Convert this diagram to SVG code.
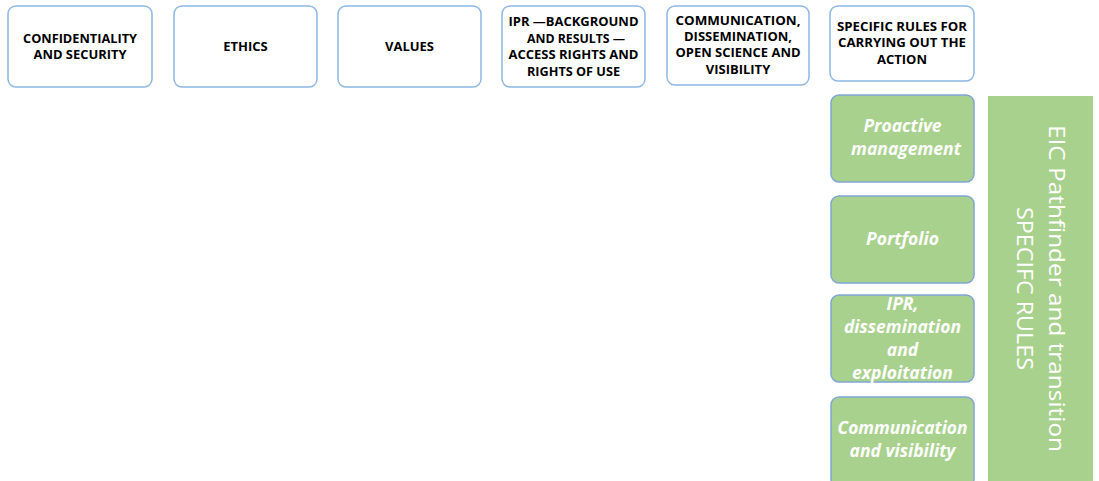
<svg xmlns="http://www.w3.org/2000/svg" width="1099" height="481" viewBox="0 0 1099 481">
<style>
.top{fill:#fff;stroke:#8fb8e3;stroke-width:1.5}
.g{fill:#a9d18e;stroke:#7fa7d3;stroke-width:1.5}
.tt{font-family:"Open Sans","Liberation Sans",sans-serif;font-weight:bold;font-size:13px;fill:#000;text-anchor:middle}
.gt{font-family:"Open Sans","Liberation Sans",sans-serif;font-weight:bold;font-style:italic;font-size:17.5px;fill:#fff;text-anchor:middle}
.bt{font-family:"Open Sans","Liberation Sans",sans-serif;font-weight:normal;font-size:22px;fill:#fff;text-anchor:middle}
</style>
<rect width="1099" height="481" fill="#fff"/>
<g id="n1"><rect class="top" x="8" y="6" width="144" height="81" rx="8"/>
<text class="tt" x="80" y="43" textLength="114" lengthAdjust="spacingAndGlyphs">CONFIDENTIALITY</text>
<text class="tt" x="80" y="59" textLength="93" lengthAdjust="spacingAndGlyphs">AND SECURITY</text></g>
<g id="n2"><rect class="top" x="174" y="6" width="143" height="81" rx="8"/>
<text class="tt" x="245.5" y="51">ETHICS</text></g>
<g id="n3"><rect class="top" x="338" y="6" width="143" height="81" rx="8"/>
<text class="tt" x="409.5" y="51">VALUES</text></g>
<g id="n4"><rect class="top" x="502" y="6" width="143" height="81" rx="8"/>
<text class="tt" x="573.5" y="26" textLength="130" lengthAdjust="spacingAndGlyphs">IPR —BACKGROUND</text>
<text class="tt" x="576" y="43" textLength="98" lengthAdjust="spacingAndGlyphs">AND RESULTS —</text>
<text class="tt" x="573.5" y="59" textLength="130" lengthAdjust="spacingAndGlyphs">ACCESS RIGHTS AND</text>
<text class="tt" x="573.5" y="76" textLength="93" lengthAdjust="spacingAndGlyphs">RIGHTS OF USE</text></g>
<g id="n5"><rect class="top" x="667" y="6" width="142" height="79" rx="8"/>
<text class="tt" x="738" y="25" textLength="125" lengthAdjust="spacingAndGlyphs">COMMUNICATION,</text>
<text class="tt" x="738" y="41">DISSEMINATION,</text>
<text class="tt" x="738" y="57" textLength="125" lengthAdjust="spacingAndGlyphs">OPEN SCIENCE AND</text>
<text class="tt" x="738" y="74">VISIBILITY</text></g>
<g id="n6"><rect class="top" x="830" y="6" width="144" height="75" rx="8"/>
<text class="tt" x="902" y="31" textLength="130" lengthAdjust="spacingAndGlyphs">SPECIFIC RULES FOR</text>
<text class="tt" x="902" y="47" textLength="128" lengthAdjust="spacingAndGlyphs">CARRYING OUT THE</text>
<text class="tt" x="902" y="64">ACTION</text></g>
<g id="g1"><rect class="g" x="831" y="95" width="143" height="87" rx="8"/>
<text class="gt" x="902.5" y="132">Proactive</text>
<text class="gt" x="906" y="155">management</text></g>
<g id="g2"><rect class="g" x="831" y="196" width="143" height="87" rx="8"/>
<text class="gt" x="902.5" y="245">Portfolio</text></g>
<g id="g3"><rect class="g" x="831" y="295" width="143" height="87" rx="8"/>
<text class="gt" x="902.5" y="310">IPR,</text>
<text class="gt" x="902.5" y="333">dissemination</text>
<text class="gt" x="902.5" y="356">and</text>
<text class="gt" x="902.5" y="379">exploitation</text></g>
<g id="g4"><rect class="g" x="831" y="397" width="143" height="90" rx="8"/>
<text class="gt" x="902.5" y="434" textLength="130" lengthAdjust="spacingAndGlyphs">Communication</text>
<text class="gt" x="902.5" y="457">and visibility</text></g>
<g id="big"><rect x="988" y="96" width="105" height="385" fill="#a9d18e"/>
<g transform="translate(1040.5 288.5) rotate(90)">
<text class="bt" x="0" y="-8" textLength="327" lengthAdjust="spacingAndGlyphs">EIC  Pathfinder and transition</text>
<text class="bt" x="0" y="24" textLength="163" lengthAdjust="spacingAndGlyphs">SPECIFC RULES</text>
</g></g>
<g id="connectors"></g>
</svg>
